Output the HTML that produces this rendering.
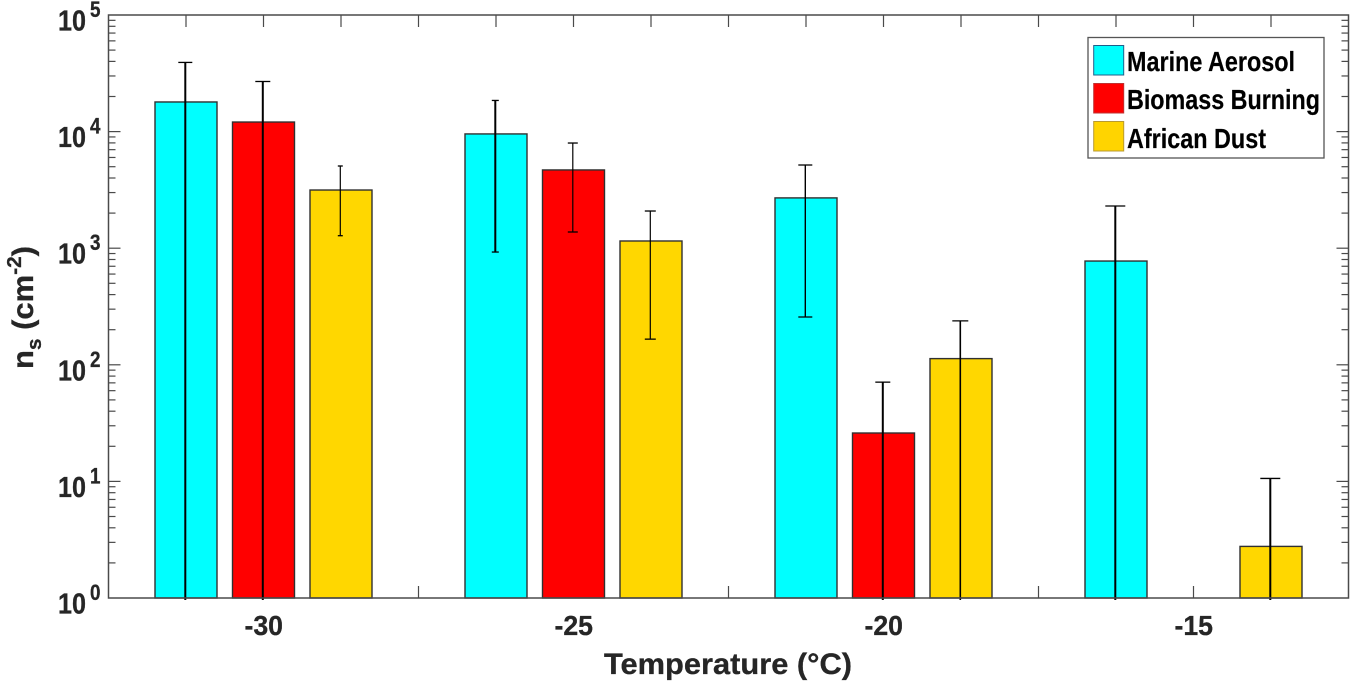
<!DOCTYPE html>
<html>
<head>
<meta charset="utf-8">
<style>
html,body{margin:0;padding:0;background:#fff;}
svg{display:block;}
text{font-family:"Liberation Sans",sans-serif;font-weight:bold;}
</style>
</head>
<body>
<svg id="chart" width="1350" height="682" viewBox="0 0 1350 682" xmlns="http://www.w3.org/2000/svg">
  <rect x="0" y="0" width="1350" height="682" fill="#ffffff"/>
  <g id="ticks"></g>
  <g id="bars"></g>
  <g id="errors"></g>
  <rect x="108.5" y="15" width="1240" height="583" fill="none" stroke="#4a4a4a" stroke-width="1.5"/>
  <g id="labels"></g>
  <text x="604" y="674" font-size="30" fill="#262626" stroke="#262626" stroke-width="0.3" textLength="248" lengthAdjust="spacingAndGlyphs">Temperature (°C)</text>
  <text transform="translate(33,369) rotate(-90)" font-size="30" fill="#262626" stroke="#262626" stroke-width="0.3" textLength="123" lengthAdjust="spacingAndGlyphs">n<tspan font-size="20" dy="8">s</tspan><tspan dy="-8"> (cm</tspan><tspan font-size="20" dy="-12">-2</tspan><tspan dy="12">)</tspan></text>
  <g>
    <rect x="1088" y="37.5" width="236" height="120.5" fill="#ffffff" stroke="#555555" stroke-width="1.3"/>
    <rect x="1093.7" y="45.5" width="30" height="29.5" fill="#00ffff" stroke="#1f5f8a" stroke-width="1"/>
    <text x="1127" y="71" font-size="28" fill="#000000" stroke="#000000" stroke-width="0.2" textLength="168" lengthAdjust="spacingAndGlyphs">Marine Aerosol</text>
    <rect x="1093.7" y="83.5" width="30" height="29.5" fill="#ff0000" stroke="#c03030" stroke-width="1"/>
    <text x="1127" y="109" font-size="28" fill="#000000" stroke="#000000" stroke-width="0.2" textLength="193" lengthAdjust="spacingAndGlyphs">Biomass Burning</text>
    <rect x="1093.7" y="121.5" width="30" height="29.5" fill="#ffd400" stroke="#b89a30" stroke-width="1"/>
    <text x="1127" y="148" font-size="28" fill="#000000" stroke="#000000" stroke-width="0.2" textLength="139" lengthAdjust="spacingAndGlyphs">African Dust</text>
  </g>
</svg>
<script>
// Chart data
var temperatures = [-30, -25, -20, -15];
var seriesNames = ['marine-aerosol', 'biomass-burning', 'african-dust'];
var marineAerosol = [17950, 9550, 2700, 776];
var biomassBurning = [12080, 4690, 26, null];
var africanDust = [3155, 1153, 113, 2.77];
var marineUpper = [39200, 18500, 5170, 2300];
var biomassUpper = [26900, 7980, 71, null];
var dustUpper = [5070, 2084, 238, 10.6];
// A null lower limit means the whisker runs off the bottom of the log axis.
var marineLower = [null, 927, 257, null];
var biomassLower = [null, 1377, null, null];
var dustLower = [1280, 166, null, null];
var yTickExponents = [0, 1, 2, 3, 4, 5];
var xTickLabels = ['-30', '-25', '-20', '-15'];

var SVGNS = 'http://www.w3.org/2000/svg';
var plotLeft = 108.5, plotRight = 1348.5, plotTop = 15, plotBottom = 598;
var xMin = -32.5, xMax = -12.5, decades = 5;
var groupOffset = 1.25, barWidthUnits = 1;
var seriesValues = [marineAerosol, biomassBurning, africanDust];
var seriesUpper = [marineUpper, biomassUpper, dustUpper];
var seriesLower = [marineLower, biomassLower, dustLower];
var seriesColors = ['#00ffff', '#ff0000', '#ffd700'];
var inkColor = '#262626';

function xScale(t) {
  return plotLeft + (t - xMin) / (xMax - xMin) * (plotRight - plotLeft);
}
function yScale(v) {
  return plotBottom - Math.log10(v) / decades * (plotBottom - plotTop);
}
function make(tag, attrs) {
  var el = document.createElementNS(SVGNS, tag);
  for (var k in attrs) { el.setAttribute(k, attrs[k]); }
  return el;
}

var ticksG = document.getElementById('ticks');
var barsG = document.getElementById('bars');
var errorsG = document.getElementById('errors');
var labelsG = document.getElementById('labels');

function tickLine(x1, y1, x2, y2, name) {
  var el = make('line', {x1: x1, y1: y1, x2: x2, y2: y2, stroke: '#4a4a4a', 'stroke-width': 1.2});
  
  
  ticksG.appendChild(el);
}

// X ticks: one per bar slot, top and bottom
var firstSlot = temperatures[0] - groupOffset;
var lastSlot = temperatures[temperatures.length - 1] + groupOffset;
for (var t = firstSlot; t <= lastSlot + 0.001; t += groupOffset) {
  tickLine(xScale(t), plotBottom, xScale(t), plotBottom - 12, 'x-tick-bottom');
  tickLine(xScale(t), plotTop, xScale(t), plotTop + 12, 'x-tick-top');
}

// Y ticks: major + log minors, left and right
yTickExponents.forEach(function (e) {
  var major = Math.pow(10, e);
  var y = yScale(major);
  if (e > 0 && e < decades) {
    tickLine(plotLeft, y, plotLeft + 12, y, 'y-major-tick-left');
    tickLine(plotRight, y, plotRight - 12, y, 'y-major-tick-right');
  }
  if (e < decades) {
    for (var m = 2; m <= 9; m++) {
      var my = yScale(major * m);
      tickLine(plotLeft, my, plotLeft + 7, my, 'y-minor-tick-left');
      tickLine(plotRight, my, plotRight - 7, my, 'y-minor-tick-right');
    }
  }
  var label = make('text', {x: 58, y: y + 15.5, 'font-size': 29, fill: inkColor, stroke: inkColor, 'stroke-width': 0.3, textLength: 28, lengthAdjust: 'spacingAndGlyphs'});
  
  
  label.textContent = '10';
  labelsG.appendChild(label);
  var sup = make('text', {x: 90, y: y + 2, 'font-size': 22, fill: inkColor, stroke: inkColor, 'stroke-width': 0.3, textLength: 10.5, lengthAdjust: 'spacingAndGlyphs'});
  
  
  sup.textContent = String(e);
  labelsG.appendChild(sup);
});

// X tick labels
temperatures.forEach(function (t, i) {
  var label = make('text', {x: xScale(t) - 19, y: 635, 'font-size': 28, fill: inkColor, stroke: inkColor, 'stroke-width': 0.3, textLength: 38.5, lengthAdjust: 'spacingAndGlyphs'});
  
  
  label.textContent = xTickLabels[i];
  labelsG.appendChild(label);
});

// Bars
temperatures.forEach(function (t, g) {
  seriesValues.forEach(function (values, s) {
    var v = values[g];
    if (v === null) { return; }
    var cx = t + (s - 1) * groupOffset;
    var x0 = xScale(cx - barWidthUnits / 2);
    var x1 = xScale(cx + barWidthUnits / 2);
    var rect = make('rect', {x: x0, y: yScale(v), width: x1 - x0, height: plotBottom - yScale(v),
      fill: seriesColors[s], stroke: '#303030', 'stroke-width': 1.4});
    
    
    barsG.appendChild(rect);
  });
});

// Error bars
var capWidthByBar = [[14, 15, 5], [7, 10, 11], [14, 15, 16], [20, 0, 20]];
var stemWidthByBar = [[2, 2, 1.2], [2, 1.2, 1.2], [1.4, 2, 1.6], [2, 0, 2]];
temperatures.forEach(function (t, g) {
  seriesValues.forEach(function (values, s) {
    var up = seriesUpper[s][g];
    if (up === null) { return; }
    var lo = seriesLower[s][g];
    var cx = xScale(t + (s - 1) * groupOffset) - 0.7;
    var yTop = yScale(up);
    var yBottom = lo === null ? plotBottom + 2 : yScale(lo);
    var half = capWidthByBar[g][s] / 2;
    var sw = stemWidthByBar[g][s];
    var stem = make('line', {x1: cx, y1: yTop, x2: cx, y2: yBottom, stroke: '#000000', 'stroke-width': sw});
    
    
    errorsG.appendChild(stem);
    var capTop = make('line', {x1: cx - half, y1: yTop, x2: cx + half, y2: yTop, stroke: '#000000', 'stroke-width': 1.3});
    
    
    errorsG.appendChild(capTop);
    if (lo !== null) {
      var capLow = make('line', {x1: cx - half, y1: yBottom, x2: cx + half, y2: yBottom, stroke: '#000000', 'stroke-width': 1.3});
      
      
      errorsG.appendChild(capLow);
    }
  });
});
</script>
</body>
</html>
